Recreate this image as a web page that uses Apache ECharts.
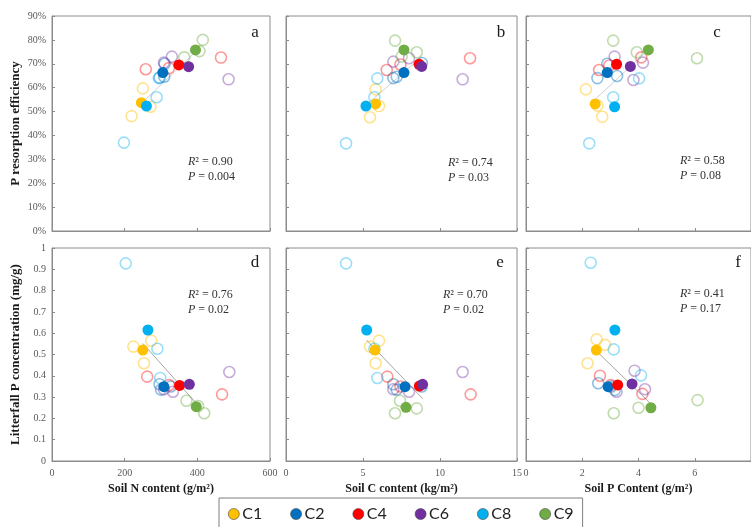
<!DOCTYPE html>
<html>
<head>
<meta charset="utf-8">
<script src="https://cdn.jsdelivr.net/npm/echarts@6/dist/echarts.min.js"></script>
<style>html,body{margin:0;padding:0;background:#fff}#main{width:751px;height:527px}</style>
</head>
<body>
<div id="main"></div>
<script>
// ---------- data ----------
const groups = ['C1', 'C2', 'C4', 'C6', 'C8', 'C9'];

// Panel a: soil N (g/m2) vs P resorption efficiency (%)
const plotsA = [
  ['C1',250,59.7],['C1',219,48.1],['C1',271,52.0],
  ['C2',296,64.2],['C2',310,70.0],['C2',309,64.6],
  ['C4',258,67.7],['C4',465,72.6],['C4',322,68.2],
  ['C6',486,63.5],['C6',330,73.0],['C6',308,70.5],
  ['C8',198,37.0],['C8',288,56.0],['C8',294,64.0],
  ['C9',415,80.0],['C9',364,72.7],['C9',406,75.3]
];
const meansA = [[246,53.7],[305,66.3],[349,69.5],[376,68.8],[260,52.3],[395,75.8]];
const trendA = [[246,53.4],[395,75.0]];

// Panel b: soil C (kg/m2) vs P resorption efficiency (%)
const plotsB = [
  ['C1',5.82,59.3],['C1',6.04,52.3],['C1',5.45,47.6],
  ['C2',6.97,64.0],['C2',7.19,64.6],['C2',8.82,70.3],
  ['C4',11.95,72.3],['C4',6.54,67.4],['C4',7.43,69.7],
  ['C6',11.47,63.5],['C6',6.97,70.9],['C6',7.99,72.3],
  ['C8',3.9,36.7],['C8',5.74,56.0],['C8',5.93,63.9],
  ['C9',7.08,79.7],['C9',8.49,74.8],['C9',7.51,73.0]
];
const meansB = [[5.82,53.2],[7.66,66.3],[8.64,69.8],[8.81,68.9],[5.19,52.3],[7.66,75.8]];
const trendB = [[5.19,52.7],[8.81,72.8]];

// Panel c: soil P (g/m2) vs P resorption efficiency (%)
const plotsC = [
  ['C1',2.13,59.3],['C1',2.71,47.8],['C1',2.54,52.5],
  ['C2',2.54,64.0],['C2',3.24,64.9],['C2',2.89,70.0],
  ['C4',2.6,67.4],['C4',4.1,72.7],['C4',2.96,69.3],
  ['C6',3.82,63.2],['C6',3.15,73.0],['C6',4.16,70.5],
  ['C8',2.25,36.7],['C8',3.1,56.0],['C8',4.02,63.9],
  ['C9',3.1,79.7],['C9',3.94,74.8],['C9',6.08,72.3]
];
const meansC = [[2.46,53.2],[2.89,66.3],[3.22,69.8],[3.71,68.9],[3.15,52.0],[4.35,75.8]];
const trendC = [[2.46,55.1],[4.35,75.9]];

// Panel d: soil N vs litterfall P concentration (mg/g)
const plotsD = [
  ['C1',273,0.565],['C1',224,0.537],['C1',253,0.459],
  ['C2',296,0.36],['C2',300,0.335],['C2',327,0.35],
  ['C4',262,0.396],['C4',468,0.313],['C4',322,0.356],
  ['C6',488,0.418],['C6',308,0.337],['C6',333,0.325],
  ['C8',203,0.928],['C8',290,0.527],['C8',298,0.39],
  ['C9',370,0.283],['C9',419,0.224],['C9',402,0.258]
];
const meansD = [[250,0.521],[308,0.349],[351,0.355],[378,0.36],[264,0.615],[397,0.255]];
const trendD = [[250,0.552],[397,0.271]];

// Panel e: soil C vs litterfall P concentration
const plotsE = [
  ['C1',6.04,0.565],['C1',5.45,0.537],['C1',5.82,0.459],
  ['C2',6.97,0.36],['C2',7.19,0.335],['C2',8.82,0.35],
  ['C4',6.58,0.396],['C4',11.99,0.313],['C4',7.43,0.35],
  ['C6',11.47,0.418],['C6',6.97,0.337],['C6',7.99,0.325],
  ['C8',3.9,0.928],['C8',5.74,0.527],['C8',5.93,0.39],
  ['C9',7.08,0.224],['C9',8.49,0.247],['C9',7.4,0.283]
];
const meansE = [[5.78,0.521],[7.73,0.349],[8.66,0.352],[8.87,0.36],[5.24,0.615],[7.79,0.252]];
const trendE = [[5.24,0.567],[8.87,0.293]];

// Panel f: soil P vs litterfall P concentration
const plotsF = [
  ['C1',2.51,0.571],['C1',2.81,0.545],['C1',2.19,0.459],
  ['C2',2.57,0.365],['C2',3.16,0.333],['C2',3.03,0.349],
  ['C4',2.63,0.4],['C4',4.14,0.315],['C4',3.01,0.356],
  ['C6',3.86,0.424],['C6',4.23,0.337],['C6',3.22,0.325],
  ['C8',2.3,0.931],['C8',3.12,0.524],['C8',4.09,0.402],
  ['C9',6.1,0.286],['C9',4.0,0.25],['C9',3.12,0.224]
];
const meansF = [[2.5,0.521],[2.92,0.349],[3.26,0.357],[3.77,0.362],[3.16,0.615],[4.44,0.25]];
const trendF = [[2.5,0.517],[4.44,0.268]];

// axis ranges [min, max, interval]
const rangeN = [0, 600, 200];
const rangeC = [0, 15, 5];
const rangeP = [0, 8, 2];
const rangeEff = [0, 90, 10];
const rangeConc = [0, 1, 0.1];

const panelLetters = ['a', 'b', 'c', 'd', 'e', 'f'];
const r2Values = ['0.90', '0.74', '0.58', '0.76', '0.70', '0.41'];
const pValues = ['0.004', '0.03', '0.08', '0.02', '0.02', '0.17'];
const xNames = ['Soil N content (g/m²)', 'Soil C content (kg/m²)', 'Soil P Content (g/m²)'];
const yNames = ['P resorption efficiency', 'Litterfall P concentration (mg/g)'];

// ---------- styles ----------
const fillColors = ['#FFC000', '#0070C0', '#FF0000', '#7030A0', '#00B0F0', '#70AD47'];
const ringColors = ['rgba(255,192,0,0.55)', 'rgba(0,112,192,0.55)', 'rgba(255,0,0,0.5)',
                    'rgba(112,48,160,0.5)', 'rgba(0,176,240,0.5)', 'rgba(112,173,71,0.55)'];
const SERIF = 'Liberation Serif';
const AXIS_COLOR = '#8c8c8c';

const gridBoxes = [
  {left: 52, top: 16, width: 218, height: 215},
  {left: 286, top: 16, width: 231, height: 215},
  {left: 526, top: 16, width: 228, height: 215},
  {left: 52, top: 248, width: 218, height: 213},
  {left: 286, top: 248, width: 231, height: 213},
  {left: 526, top: 248, width: 228, height: 213}
];

const panels = [
  {plots: plotsA, means: meansA, trend: trendA, xr: rangeN, yr: rangeEff},
  {plots: plotsB, means: meansB, trend: trendB, xr: rangeC, yr: rangeEff},
  {plots: plotsC, means: meansC, trend: trendC, xr: rangeP, yr: rangeEff},
  {plots: plotsD, means: meansD, trend: trendD, xr: rangeN, yr: rangeConc},
  {plots: plotsE, means: meansE, trend: trendE, xr: rangeC, yr: rangeConc},
  {plots: plotsF, means: meansF, trend: trendF, xr: rangeP, yr: rangeConc}
];

const grid = gridBoxes.map(b => Object.assign({show: true, borderColor: AXIS_COLOR, borderWidth: 1, backgroundColor: 'transparent'}, b));

const xAxis = panels.map((p, i) => {
  const bottom = i >= 3;
  return {
    type: 'value', gridIndex: i, min: p.xr[0], max: p.xr[1], interval: p.xr[2],
    name: bottom ? xNames[i - 3] : '', nameLocation: 'middle', nameGap: 22,
    nameTextStyle: {fontFamily: SERIF, fontWeight: 'bold', fontSize: 12, color: '#1a1a1a'},
    axisLine: {show: true, lineStyle: {color: AXIS_COLOR}},
    axisTick: {show: true, inside: true, length: 3, lineStyle: {color: AXIS_COLOR}},
    axisLabel: {show: bottom, fontFamily: SERIF, fontSize: 10, color: '#595959', margin: 7, showMaxLabel: i !== 5},
    splitLine: {show: false}
  };
});

const yAxis = panels.map((p, i) => {
  const left = (i === 0 || i === 3);
  return {
    type: 'value', gridIndex: i, min: p.yr[0], max: p.yr[1], interval: p.yr[2],
    name: left ? yNames[i === 0 ? 0 : 1] : '', nameLocation: 'middle', nameGap: 30,
    nameTextStyle: {fontFamily: SERIF, fontWeight: 'bold', fontSize: 13, color: '#1a1a1a'},
    axisLine: {show: true, lineStyle: {color: AXIS_COLOR}},
    axisTick: {show: true, inside: true, length: 3, lineStyle: {color: AXIS_COLOR}},
    axisLabel: {show: left, fontFamily: SERIF, fontSize: 10, color: '#595959', margin: 6,
                formatter: i < 3 ? '{value}%' : '{value}'},
    splitLine: {show: false}
  };
});

const series = [];
panels.forEach((p, i) => {
  series.push({
    type: 'line', xAxisIndex: i, yAxisIndex: i, data: p.trend, symbol: 'none', silent: true, z: 1,
    lineStyle: {color: i < 3 ? '#cfcfcf' : '#a6a6a6', width: 1}
  });
  groups.forEach((g, k) => {
    series.push({
      name: g + ' plots', type: 'scatter', xAxisIndex: i, yAxisIndex: i, z: 2, symbolSize: 11,
      data: p.plots.filter(r => r[0] === g).map(r => [r[1], r[2]]),
      itemStyle: {color: 'rgba(255,255,255,0)', borderColor: ringColors[k], borderWidth: 1.6}
    });
  });
  groups.forEach((g, k) => {
    series.push({
      name: g, type: 'scatter', xAxisIndex: i, yAxisIndex: i, z: 3, symbolSize: 11,
      data: [p.means[k]],
      itemStyle: {color: fillColors[k], opacity: 1}
    });
  });
});

// text positions of panel letters and statistics
const letterPos = [[255, 33], [501, 33], [717, 33], [255, 263], [500, 263], [738, 263]];
const statPos = [[188, 169], [448, 170], [680, 168], [188, 302], [443, 302], [680, 301]];

const graphic = [];
panelLetters.forEach((L, i) => {
  graphic.push({type: 'text', x: letterPos[i][0], y: letterPos[i][1], silent: true,
    style: {text: L, fontFamily: SERIF, fontSize: 17, fill: '#1a1a1a', textAlign: 'center', textVerticalAlign: 'middle'}});
  graphic.push({type: 'text', x: statPos[i][0], y: statPos[i][1], silent: true,
    style: {text: '{i|R}{n|² = ' + r2Values[i] + '}\n{i|P}{n| = ' + pValues[i] + '}',
      fontFamily: SERIF, fontSize: 12, fill: '#333', textVerticalAlign: 'middle', lineHeight: 15,
      rich: {i: {fontFamily: SERIF, fontStyle: 'italic', fontSize: 12, fill: '#333', lineHeight: 15},
             n: {fontFamily: SERIF, fontSize: 12, fill: '#333', lineHeight: 15}}}});
});

const option = {
  animation: false,
  backgroundColor: '#fff',
  grid, xAxis, yAxis, series, graphic,
  legend: {
    data: groups, left: 219, top: 498, orient: 'horizontal',
    padding: [8, 9, 16, 9], itemGap: 28, itemWidth: 11, itemHeight: 11, icon: 'circle',
    borderColor: '#7f7f7f', borderWidth: 1,
    itemStyle: {borderColor: '#444', borderWidth: 0.6},
    textStyle: {fontFamily: 'Lato', fontSize: 16, color: '#222', padding: [0, 0, 0, -2]},
    selectedMode: false
  }
};

const chart = echarts.init(document.getElementById('main'));
chart.setOption(option);
</script>
</body>
</html>
